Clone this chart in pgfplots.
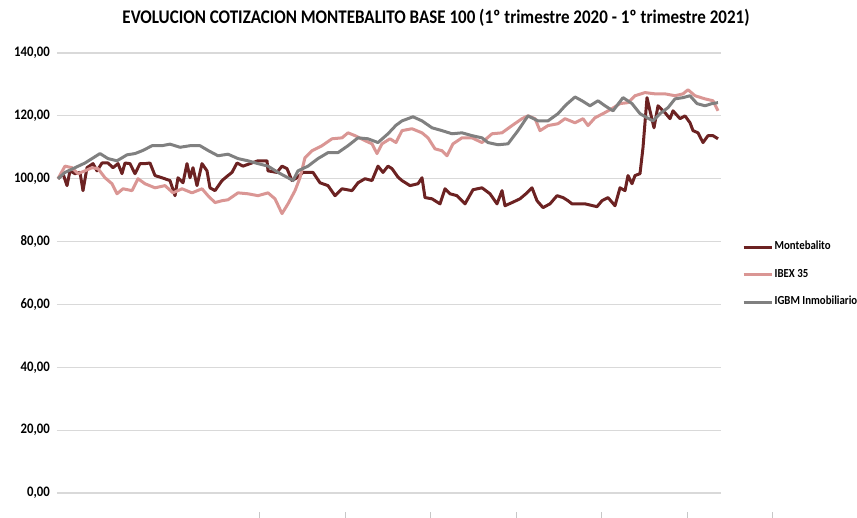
\documentclass[border=0pt]{standalone}
\usepackage{fontspec}
\setmainfont{Carlito}
\newfontfamily\condfont[FakeStretch=0.88]{Carlito}
\usepackage{pgfplots}
\pgfplotsset{compat=1.18}
\definecolor{monte}{RGB}{108,34,34}
\definecolor{ibex}{RGB}{218,150,148}
\definecolor{igbm}{RGB}{128,128,128}
\definecolor{gridc}{RGB}{217,217,217}
\begin{document}
\begin{tikzpicture}[x=1pt,y=1pt]
\useasboundingbox (0,0) rectangle (857,518);
\begin{axis}[
  at={(57pt,25pt)}, anchor=south west,
  scale only axis, width=664pt, height=440pt,
  xmin=57, xmax=721, ymin=0, ymax=140,
  axis line style={draw=none},
  xtick=\empty,
  ytick={0,20,...,140},
  ymajorgrids,
  grid style={gridc, line width=1.2pt},
  tick style={draw=none},
  yticklabel style={font=\condfont\bfseries\fontsize{14.5}{14.5}\selectfont, inner sep=0pt, xshift=-7pt},
  /pgf/number format/.cd, fixed, fixed zerofill, precision=2, use comma, assume math mode=true,
  /pgfplots/.cd,
  clip=false,
  legend style={at={(axis description cs:1.0316,0.573)}, anchor=north west, draw=none, fill=none,
    font=\condfont\bfseries\fontsize{12.3}{12.3}\selectfont, row sep=15.5pt, inner sep=0pt,
    nodes={inner sep=1.5pt, text height=7pt, text depth=2pt}},
  legend cell align=left,
  legend image code/.code={\draw[#1] (0pt,0pt) -- (28pt,0pt);},
  every axis plot/.append style={line width=3pt, line join=round},
]
\addplot[monte] coordinates {
(58,100) (63,101.6) (67,97.8) (70,102.5) (75,101.6) (80,102) (83,96.2) (87,103.5) (93,104.8) (97,102.5)
(102,105) (108,105) (113,103.5) (118,104.8) (122,101.6) (125,105) (130,104.8) (135,101.6) (140,104.8) (145,104.8)
(150,105) (155,101) (162,100.3) (170,99.4) (175,94.6) (178,100.3) (183,98.7) (187,104.8) (190,100.3) (193,103.5)
(197,97.8) (202,104.8) (207,102.5) (210,97.1) (215,96.2) (222,99.4) (228,101) (232,102) (237,105) (243,104)
(250,104.8) (258,105.7) (267,105.7) (268,102.5) (277,102) (282,104) (287,103.2) (292,99.4) (297,100.3) (303,102)
(313,102) (320,98.7) (328,97.8) (335,94.6) (342,96.8) (352,96.2) (358,98.7) (365,100) (372,99.4) (378,104)
(383,102) (388,104) (392,103.2) (398,100.5) (402,99.4) (410,97.8) (418,98.4) (422,100.3) (425,94) (432,93.6)
(440,92) (445,96.8) (450,95.2) (457,94.6) (465,92) (473,96.5) (482,97.1) (490,95.2) (497,92) (502,96.2)
(505,91.4) (512,92.4) (520,93.6) (527,95.5) (532,97.1) (537,93) (543,90.8) (550,92) (557,94.6) (563,94)
(568,93) (572,92) (585,92) (597,91.1) (602,93) (608,94) (615,91.4) (620,97.1) (625,96.2) (628,101)
(632,98.4) (635,101) (640,101.6) (643,109.9) (647,125.8) (650,121.6) (654,116.2) (658,123.2) (665,121) (670,119.1)
(673,121.6) (680,119.1) (685,120) (690,117.8) (693,115.3) (698,114.6) (703,111.5) (708,113.7) (713,113.7) (718,112.7)
};
\addlegendentry{Montebalito}
\addplot[ibex] coordinates {
(58,100) (65,104) (72,103.5) (78,101.6) (85,102.5) (92,103.5) (98,103.2) (105,100.3) (112,98.4) (117,95.2)
(123,96.8) (132,96.2) (138,100) (145,98.4) (155,97.1) (165,97.8) (173,95.5) (182,96.8) (192,95.5) (202,96.8)
(208,94.6) (215,92.4) (222,93) (228,93.3) (238,95.5) (248,95.2) (258,94.6) (268,95.5) (275,93.6) (282,88.9)
(288,92) (295,96.2) (300,100.3) (305,106.7) (312,108.9) (322,110.5) (332,112.7) (342,113) (348,114.6) (355,113.7)
(365,112.1) (372,111.1) (377,108) (382,111.1) (390,112.7) (396,111.5) (402,115.3) (412,115.9) (422,114.6) (428,113)
(435,109.5) (442,108.9) (447,107.3) (453,111.1) (462,113) (472,113) (482,111.5) (492,114.3) (502,114.6) (512,116.9)
(522,119.1) (528,120) (535,119.1) (540,115.3) (548,116.9) (558,117.5) (565,119.1) (575,117.8) (583,119.1) (588,116.9)
(595,119.4) (603,120.7) (612,122.3) (620,123.9) (628,124.2) (635,126.4) (645,127.4) (655,127) (665,127) (675,126.4)
(683,127) (688,128.3) (695,126.4) (705,125.4) (713,124.8) (718,121.6)
};
\addlegendentry{IBEX 35}
\addplot[igbm] coordinates {
(58,100) (65,102) (75,103.5) (85,105) (95,107) (100,108) (108,106.4) (117,105.7) (127,107.6) (135,108)
(143,109) (152,110.5) (162,110.5) (170,111) (180,110) (190,110.5) (200,110.5) (208,109) (218,107.3) (228,107.8)
(238,106.4) (248,105.7) (258,104.8) (268,104) (278,102) (288,100.3) (293,99.4) (298,102.5) (308,104) (318,106.4)
(328,108.3) (338,108.3) (348,110.5) (358,113) (368,112.7) (378,111.5) (388,114.3) (396,117) (402,118.4) (413,119.7)
(422,118.4) (432,116.2) (442,115.3) (452,114.3) (462,114.6) (472,113.7) (482,113) (488,111.5) (498,110.8) (508,111.1)
(518,115.3) (528,120) (538,118.4) (548,118.4) (558,120.7) (566,123.5) (575,126) (582,124.8) (590,123.2) (598,124.8)
(605,123.2) (613,121.6) (623,125.8) (632,123.9) (640,120.7) (647,119.4) (653,118.4) (660,120.7) (668,122.6) (675,125.4)
(683,125.8) (690,126.4) (697,123.9) (705,123.2) (712,123.9) (718,124.2)
};
\addlegendentry{IGBM Inmobiliario}
\end{axis}
\node[font=\condfont\bfseries\fontsize{19.3}{19.3}\selectfont] at (436,500) {EVOLUCION COTIZACION MONTEBALITO BASE 100 (1º trimestre 2020 - 1º trimestre 2021)};
\foreach \x in {259,345,430,516,601,687,772} \draw[gridc!80!gray, line width=0.8pt] (\x,0) -- (\x,6);
\end{tikzpicture}
\end{document}
